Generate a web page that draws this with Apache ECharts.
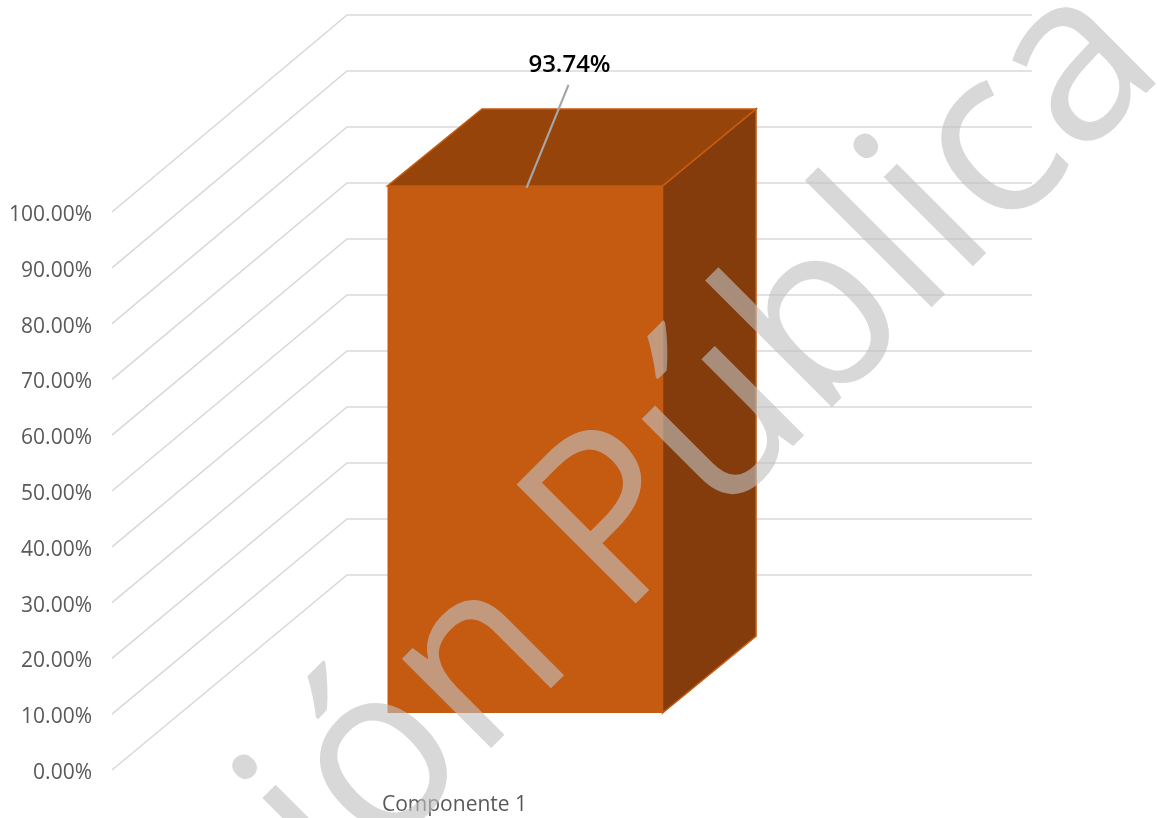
<!DOCTYPE html>
<html>
<head>
<meta charset="utf-8">
<style>html,body{margin:0;padding:0;background:#fff}#c{width:1157px;height:818px}</style>
<script src="https://cdn.jsdelivr.net/npm/echarts@6/dist/echarts.min.js"></script>
</head>
<body>
<div id="c"></div>
<script>
const categories = ['Componente 1'];
const values = [93.74];
const tickValues = [0, 10, 20, 30, 40, 50, 60, 70, 80, 90, 100];
const watermark = 'Versión Pública';

const chart = echarts.init(document.getElementById('c'), null, {renderer: 'canvas'});
const wallDX = 235, wallDY = 195, wallScale = 1.0036;
const barFrontDX = 70.5, barFrontDY = 57, barW = 275, barDX = 93.5, barDY = 77, barScale = 1.0076;

function renderWall(params, api) {
  const v = api.value(1);
  const p = api.coord([0, v]), p0 = api.coord([0, 0]);
  const cs = params.coordSys;
  const yBack = p0[1] - wallDY - (p0[1] - p[1]) * wallScale;
  return {
    type: 'polyline', silent: true,
    shape: {points: [[cs.x, p[1]], [cs.x + wallDX, yBack], [cs.x + cs.width + wallDX, yBack]]},
    style: {stroke: '#d9d9d9', lineWidth: 1.6, fill: null}
  };
}
function renderBar(params, api) {
  const cat = api.value(0), v = api.value(1);
  const base = api.coord([cat, 0]), top = api.coord([cat, v]);
  const x0 = base[0] + barFrontDX - barW / 2, x1 = x0 + barW;
  const y0 = base[1] - barFrontDY, y1 = y0 - (base[1] - top[1]) * barScale;
  const edge = {stroke: '#c55a11', lineWidth: 1.6};
  return {type: 'group', children: [
    {type: 'polygon', shape: {points: [[x1, y0], [x1 + barDX, y0 - barDY], [x1 + barDX, y1 - barDY], [x1, y1]]},
      style: Object.assign({fill: '#843c0c'}, edge)},
    {type: 'polygon', shape: {points: [[x0, y1], [x1, y1], [x1 + barDX, y1 - barDY], [x0 + barDX + 1, y1 - barDY]]},
      style: Object.assign({fill: '#964409'}, edge)},
    {type: 'rect', shape: {x: x0, y: y1, width: barW, height: y0 - y1},
      style: {fill: '#c55a11'}},
    {type: 'line', shape: {x1: x0 + 139, y1: y1 + 2, x2: x0 + 181, y2: y1 - 101},
      style: {stroke: '#a6a6a6', lineWidth: 2.2}},
    {type: 'text', x: x0 + 182, y: y1 - 121,
      style: {text: api.value(1).toFixed(2) + '%', fill: '#000', align: 'center', verticalAlign: 'middle',
        font: '600 24px "Open Sans"'}}
  ]};
}

chart.setOption({
  animation: false,
  backgroundColor: '#fff',
  grid: {left: 112, width: 685, top: 212, bottom: 48, containLabel: false},
  xAxis: {type: 'category', data: categories,
    axisLine: {show: false}, axisTick: {show: false}, splitLine: {show: false},
    axisLabel: {color: '#595959', fontFamily: 'Open Sans', fontSize: 21, margin: 25, letterSpacing: -0.6}},
  yAxis: {type: 'value', min: 0, max: 100, interval: 10,
    axisLine: {show: false}, axisTick: {show: false}, splitLine: {show: false},
    axisLabel: {color: '#595959', fontFamily: 'Open Sans', fontSize: 21, margin: 20, letterSpacing: -0.9,
      verticalAlign: 'top', lineHeight: 6, formatter: v => v.toFixed(2) + '%'}},
  series: [
    {type: 'custom', name: 'walls', z: 1, silent: true, clip: false,
      data: tickValues.map(t => [0, t]), encode: {x: 0, y: 1}, renderItem: renderWall},
    {type: 'custom', name: 'Componente', z: 2, clip: false,
      data: values.map((v, i) => [i, v]), encode: {x: 0, y: 1}, renderItem: renderBar}
  ],
  graphic: [{
    type: 'text', z: 100, silent: true,
    x: 1205, y: 106, rotation: Math.PI / 4, scaleX: 0.978,
    style: {text: watermark, align: 'right', verticalAlign: 'bottom',
      font: '500 236px "Open Sans"', fill: 'rgba(192,192,192,0.62)'}
  }]
});
</script>
</body>
</html>
